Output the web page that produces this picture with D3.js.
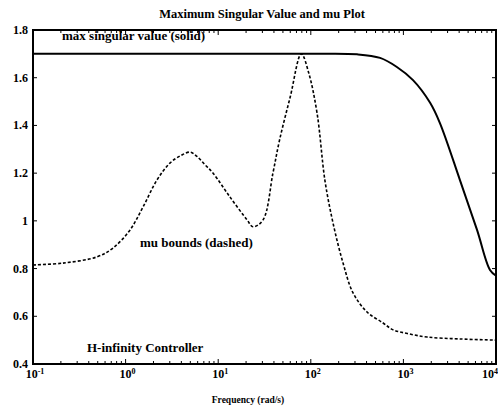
<!doctype html>
<html lang="en">
<head>
<meta charset="utf-8">
<title>Maximum Singular Value and mu Plot</title>
<style>
  body { margin: 0; background: #fff; }
</style>
</head>
<body>
<script src="https://cdn.jsdelivr.net/npm/d3@7"></script>
<script>

// solid curve: maximum singular value
const svFreq  = [0.1, 10, 100, 316, 560, 850, 1270, 1950, 2480, 4080, 6240, 8610, 10000];
const svValue = [1.70, 1.70, 1.70, 1.698, 1.683, 1.645, 1.59, 1.494, 1.41, 1.171, 0.962, 0.794, 0.77];

// dashed curve: mu bounds
const muFreq  = [0.1, 0.211, 0.491, 0.731, 1.117, 1.542, 2.18, 3.01, 4.0, 5.0, 5.9, 7.2, 8.8, 13.4, 20.5, 23.8,
                 30.5, 39, 46, 60, 79, 95, 117, 142, 174, 223, 286, 405, 603, 776, 1100, 1800, 4070, 10000];
const muValue = [0.815, 0.823, 0.849, 0.886, 0.962, 1.058, 1.171, 1.242, 1.275, 1.288, 1.27, 1.235, 1.20, 1.10, 1.004, 0.975,
                 1.004, 1.20, 1.339, 1.52, 1.70, 1.62, 1.45, 1.17, 0.99, 0.823, 0.698, 0.618, 0.572, 0.543, 0.528, 0.513, 0.505, 0.50];

const yTicks = [0.4, 0.6, 0.8, 1, 1.2, 1.4, 1.6, 1.8];
const decades = [-1, 0, 1, 2, 3, 4];

const width = 498, height = 413;
const margin = {top: 30, right: 2, bottom: 49, left: 33};
const serif = '"Liberation Serif", "DejaVu Serif", serif';

const svg = d3.select('body').append('svg')
    .attr('width', width)
    .attr('height', height)
    .attr('font-family', serif)
    .attr('font-weight', 'bold');

const x = d3.scaleLog()
    .domain([0.1, 10000])
    .range([margin.left, width - margin.right]);

const y = d3.scaleLinear()
    .domain([0.4, 1.8])
    .range([height - margin.bottom, margin.top]);

const x0 = x.range()[0], x1 = x.range()[1];
const y0 = y.range()[0], y1 = y.range()[1];

// minor ticks 2..9 in each decade
const minor = [];
decades.slice(0, -1).forEach(function(e){
  for (let k = 2; k <= 9; k++) minor.push(k * Math.pow(10, e));
});

const ticks = svg.append('g').attr('stroke', '#000').attr('stroke-width', 1);

// x ticks, inward on bottom and top
ticks.selectAll('g.xmaj')
  .data(decades.map(e => Math.pow(10, e)))
  .join(enter => {
    const g = enter.append('g').attr('class', 'xmaj');
    g.append('line').attr('x1', d => x(d)).attr('x2', d => x(d)).attr('y1', y0).attr('y2', y0 - 5);
    g.append('line').attr('x1', d => x(d)).attr('x2', d => x(d)).attr('y1', y1).attr('y2', y1 + 5);
    return g;
  });

ticks.selectAll('g.xmin')
  .data(minor)
  .join(enter => {
    const g = enter.append('g').attr('class', 'xmin');
    g.append('line').attr('x1', d => x(d)).attr('x2', d => x(d)).attr('y1', y0).attr('y2', y0 - 3);
    g.append('line').attr('x1', d => x(d)).attr('x2', d => x(d)).attr('y1', y1).attr('y2', y1 + 3);
    return g;
  });

// y ticks, inward on left and right
ticks.selectAll('g.ytick')
  .data(yTicks)
  .join(enter => {
    const g = enter.append('g').attr('class', 'ytick');
    g.append('line').attr('x1', x0).attr('x2', x0 + 4).attr('y1', d => y(d)).attr('y2', d => y(d));
    g.append('line').attr('x1', x1).attr('x2', x1 - 4).attr('y1', d => y(d)).attr('y2', d => y(d));
    return g;
  });

// frame
svg.append('rect')
  .attr('x', x0).attr('y', y1)
  .attr('width', x1 - x0).attr('height', y0 - y1)
  .attr('fill', 'none')
  .attr('stroke', '#000')
  .attr('stroke-width', 2);

// y tick labels
svg.selectAll('text.ylab')
  .data(yTicks)
  .join('text')
  .attr('class', 'ylab')
  .attr('x', x0 - 5)
  .attr('y', d => y(d) + 4)
  .attr('text-anchor', 'end')
  .attr('font-size', 12)
  .text(d => d3.format('~g')(d));

// x tick labels 10^n
const xl = svg.selectAll('text.xlab')
  .data(decades)
  .join('text')
  .attr('class', 'xlab')
  .attr('x', d => d === 4 ? width : x(Math.pow(10, d)) + 2)
  .attr('y', y0 + 14)
  .attr('text-anchor', d => d === 4 ? 'end' : 'middle')
  .attr('font-size', 12);
xl.append('tspan').text('10');
xl.append('tspan').attr('dy', -4).attr('font-size', 8).text(d => d === -1 ? '-1' : d);

// curves
const line = d3.line()
  .x(d => x(d[0]))
  .y(d => y(d[1]))
  .curve(d3.curveCatmullRom.alpha(0.5));

svg.append('path')
  .datum(svFreq.map((f, i) => [f, svValue[i]]))
  .attr('d', line)
  .attr('fill', 'none')
  .attr('stroke', '#000')
  .attr('stroke-width', 2);

svg.append('path')
  .datum(muFreq.map((f, i) => [f, muValue[i]]))
  .attr('d', line)
  .attr('fill', 'none')
  .attr('stroke', '#000')
  .attr('stroke-width', 1.6)
  .attr('stroke-dasharray', '3 2');

// annotations
svg.append('text').attr('x', 62).attr('y', 40).attr('font-size', 13).text('max singular value (solid)');
svg.append('text').attr('x', 140).attr('y', 247).attr('font-size', 13).text('mu bounds (dashed)');
svg.append('text').attr('x', 87).attr('y', 352).attr('font-size', 13).text('H-infinity Controller');

// title and axis label
svg.append('text')
  .attr('x', 262).attr('y', 18)
  .attr('text-anchor', 'middle')
  .attr('font-size', 12.5)
  .text('Maximum Singular Value and mu Plot');

svg.append('text')
  .attr('x', 248).attr('y', 403)
  .attr('text-anchor', 'middle')
  .attr('font-size', 9.5)
  .text('Frequency  (rad/s)');

</script>
</body>
</html>
